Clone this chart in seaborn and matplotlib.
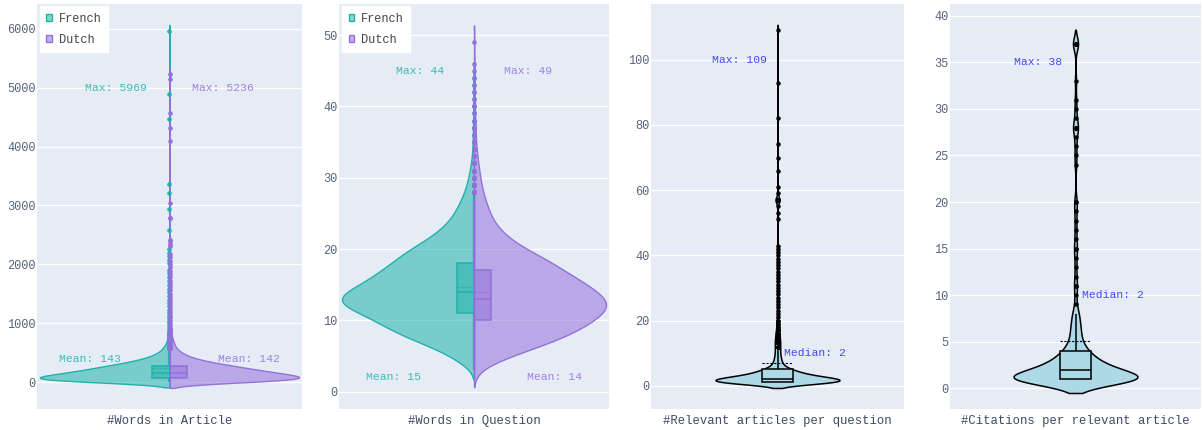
import seaborn as sns
import matplotlib
matplotlib.use("Agg")
import matplotlib.pyplot as plt
from matplotlib.colors import to_rgba
from matplotlib.patches import Patch
import numpy as np
import pandas as pd

sns.set_theme(style="darkgrid", rc={"axes.facecolor": "#E5ECF6", "grid.color": "white",
                                    "grid.linewidth": 1.0})
plt.rcParams["font.family"] = ["Liberation Mono", "DejaVu Sans Mono"]

# ---------------- data ----------------
langs = ["French", "Dutch"]
lang_colors = {"French": "#20B2AA", "Dutch": "#9370DB"}

# words per article: binned body + single outliers
art_bins = [10, 30, 50, 70, 90, 110, 130, 150, 170, 190, 210, 230, 250, 270, 290, 310, 330, 350,
            370, 390, 410, 430, 450, 470, 490, 510, 530, 550, 580, 620, 660, 700, 750, 800, 850,
            900, 950]
art_fr_counts = [60, 60, 60, 58, 55, 51, 47, 43, 40, 37, 34, 32, 29, 27, 24, 21, 18, 16, 13, 11,
                 10, 8, 7, 6, 5, 4, 4, 3, 5, 4, 3, 2, 2, 2, 2, 1, 1]
art_du_counts = [57, 60, 61, 59, 56, 52, 48, 44, 41, 38, 35, 32, 30, 27, 24, 21, 18, 15, 13, 11,
                 9, 8, 7, 6, 5, 5, 4, 3, 5, 4, 4, 3, 3, 2, 2, 2, 1]
art_fr_outliers = [1000, 1040, 1090, 1130, 1180, 1230, 1290, 1340, 1400, 1460, 1530, 1580, 1650,
                   1720, 1790, 1860, 1910, 2020, 2080, 2150, 2200, 2260, 2580, 2940, 3220, 3360,
                   4470, 4890, 5969]
art_du_outliers = [1000, 1050, 1100, 1150, 1200, 1250, 1300, 1350, 1400, 1450, 1500, 1560, 1610,
                   1660, 1720, 1780, 1830, 1890, 1950, 2000, 2060, 2120, 2180, 2310, 2350, 2390,
                   2420, 2780, 2793, 3035, 4086, 4322, 4563, 5154, 5236]

# words per question
q_words = [3, 4, 5, 6, 7, 8, 9, 10, 11, 12, 13, 14, 15, 16, 17, 18, 19, 20, 21, 22, 23, 24, 25,
           26, 27, 28, 29, 30, 31, 32, 33, 34, 35, 36, 37, 38, 39, 40, 41, 42, 43, 44, 45, 46, 49]
q_fr_counts = [0, 20, 32, 52, 80, 104, 124, 138, 160, 186, 200, 180, 160, 144, 130, 116, 104, 90,
               72, 56, 44, 34, 28, 22, 18, 13, 10, 8, 6, 4, 3, 2, 2, 1, 2, 1, 1, 1, 1, 1, 1, 1,
               0, 0, 0]
q_du_counts = [8, 25, 55, 85, 115, 140, 160, 175, 190, 200, 195, 180, 165, 150, 128, 118, 96, 76,
               58, 45, 35, 28, 23, 20, 16, 13, 11, 9, 8, 6, 5, 4, 3, 2, 3, 2, 1, 2, 1, 1, 1, 1,
               1, 1, 1]

# relevant articles per question
rel_vals = [1, 2, 3, 4, 5, 6, 7, 8, 9, 10, 11, 12, 13, 14, 15, 16, 17, 18, 19, 20, 21, 22, 23,
            24, 25, 26, 27, 28, 29, 30, 31, 32, 33, 34, 35, 36, 37, 38, 39, 40, 41, 42, 43, 51,
            53, 55, 57, 59, 61, 66, 70, 74, 82, 93, 109]
rel_counts = [135, 135, 70, 45, 28, 12, 9, 7, 6, 5, 5, 5, 5, 5, 4, 4, 3, 2, 2, 2, 1, 1, 1, 1,
              1, 1, 1, 1, 1, 1, 1, 1, 1, 1, 1, 1, 1, 1, 1, 1, 1, 1, 1, 1, 1, 1, 8, 1, 1, 1, 1,
              1, 1, 1, 1]

# citations per relevant article
cit_vals = [1, 2, 3, 4, 5, 6, 7, 8, 9, 10, 11, 12, 13, 14, 15, 16, 17, 18, 19, 20, 24, 25, 26,
            27, 28, 29, 30, 31, 33, 37]
cit_counts = [100, 45, 25, 14, 7, 6, 5, 4, 1, 1, 2, 1, 1, 1, 2, 1, 1, 1, 1, 2, 1, 1, 1, 1, 4, 1,
              1, 1, 1, 5]

art_max = {"French": 5969, "Dutch": 5236}
art_mean = {"French": 143, "Dutch": 142}
q_max = {"French": 44, "Dutch": 49}
q_mean = {"French": 15, "Dutch": 14}
rel_max, rel_median = 109, 2
cit_max, cit_median = 38, 2

# ---------------- frames ----------------
art_df = pd.concat([
    pd.DataFrame({"v": np.concatenate([np.repeat(art_bins, art_fr_counts), art_fr_outliers]),
                  "lang": "French"}),
    pd.DataFrame({"v": np.concatenate([np.repeat(art_bins, art_du_counts), art_du_outliers]),
                  "lang": "Dutch"}),
])
q_df = pd.concat([
    pd.DataFrame({"v": np.repeat(q_words, q_fr_counts), "lang": "French"}),
    pd.DataFrame({"v": np.repeat(q_words, q_du_counts), "lang": "Dutch"}),
])
rel_df = pd.DataFrame({"v": np.repeat(rel_vals, rel_counts)})
cit_df = pd.DataFrame({"v": np.repeat(cit_vals, cit_counts)})
for d in (art_df, q_df, rel_df, cit_df):
    d["grp"] = "a"

W, H = 1203, 430
fig = plt.figure(figsize=(W / 100, H / 100), dpi=100)


def make_ax(left, right, top=4, bottom=409):
    return fig.add_axes([left / W, 1 - bottom / H, (right - left) / W, (bottom - top) / H])


tick_color = "#56647d"
blue_txt = to_rgba("blue", 0.7)


def style(ax, ylim, ticks, xhalf, label):
    ax.set_ylim(*ylim)
    ax.set_yticks(ticks)
    ax.set_xlim(-xhalf, xhalf)
    ax.set_xticks([])
    ax.set_ylabel("")
    ax.set_xlabel(label, fontsize=8.8, color="#3c4a63", labelpad=4)
    ax.tick_params(axis="y", length=0, pad=1, labelsize=8.6, labelcolor=tick_color)
    ax.grid(axis="x", visible=False)
    ax.grid(axis="y", color="white", linewidth=1)
    for s in ax.spines.values():
        s.set_visible(False)


def split_panel(ax, df, h):
    sns.violinplot(data=df, x="grp", y="v", hue="lang", hue_order=langs, split=True, inner=None,
                   density_norm="width", cut=2, gridsize=1500, bw_method=h / df["v"].std(),
                   width=0.8, palette=lang_colors, saturation=1, linewidth=1.0, legend=False,
                   ax=ax)
    for coll, lang in zip(ax.collections, langs):
        coll.set_facecolor(to_rgba(lang_colors[lang], 0.55))
        coll.set_edgecolor(lang_colors[lang])
    for lang in langs:
        c = lang_colors[lang]
        sub = df[df["lang"] == lang]
        sns.boxplot(data=sub, x="grp", y="v", hue="lang", hue_order=langs, dodge=True, gap=0,
                    width=0.105, showfliers=False, showcaps=False,
                    boxprops=dict(facecolor=to_rgba(c, 0.5), edgecolor=c, linewidth=1.1),
                    whiskerprops=dict(visible=False), medianprops=dict(color=c, linewidth=1.1),
                    showmeans=True, meanline=True,
                    meanprops=dict(color=c, linestyle=(0, (2, 1.5)), linewidth=0.8),
                    legend=False, ax=ax)
        sns.boxplot(data=sub, x="grp", y="v", hue="lang", hue_order=langs, dodge=True, gap=0,
                    width=0.006, showcaps=False,
                    boxprops=dict(visible=False), medianprops=dict(visible=False),
                    whiskerprops=dict(color=c, linewidth=1.6),
                    flierprops=dict(marker="o", markersize=2.3, markerfacecolor=c,
                                    markeredgecolor=c, fillstyle="full"),
                    legend=False, ax=ax)
    handles = [Patch(facecolor=to_rgba(lang_colors[l], 0.55), edgecolor=lang_colors[l],
                     linewidth=1, label=l) for l in langs]
    ax.legend(handles=handles, loc="upper left", bbox_to_anchor=(0.011, 0.995),
              borderaxespad=0, frameon=True, fancybox=False, framealpha=1, edgecolor="white",
              facecolor="white", fontsize=8.6, handlelength=0.45, handleheight=0.45,
              handletextpad=0.6, borderpad=0.55, labelspacing=0.75,
              labelcolor="#444444")


def single_panel(ax, df, h):
    sns.violinplot(data=df, x="grp", y="v", inner=None, density_norm="width", cut=2,
                   gridsize=1500, bw_method=h / df["v"].std(), width=0.8, color="lightblue",
                   saturation=1, linecolor="black", linewidth=1.1, ax=ax)
    sns.boxplot(data=df, x="grp", y="v", width=0.2, showcaps=False, color="lightblue",
                saturation=1, linecolor="black", linewidth=1.1,
                showmeans=True, meanline=True,
                meanprops=dict(color="black", linestyle=(0, (2, 1.5)), linewidth=0.8),
                flierprops=dict(marker="o", markersize=2.2, markerfacecolor="black",
                                markeredgecolor="black", fillstyle="full"),
                ax=ax)


# panel 1: words in article
ax1 = make_ax(37, 302)
split_panel(ax1, art_df, 50)
style(ax1, (-453, 6419), [0, 1000, 2000, 3000, 4000, 5000, 6000], 0.409, "#Words in Article")
for lang, sx in zip(langs, (-1, 1)):
    col = to_rgba(lang_colors[lang], 0.85)
    ax1.text(0.164 * sx, 5000, f"Max: {art_max[lang]}", color=col, fontsize=8.2,
             ha="center", va="center")
    ax1.text(0.245 * sx, 400, f"Mean: {art_mean[lang]}", color=col, fontsize=8.2,
             ha="center", va="center")

# panel 2: words in question
ax2 = make_ax(339, 609)
split_panel(ax2, q_df, 1.15)
style(ax2, (-2.43, 54.35), [0, 10, 20, 30, 40, 50], 0.409, "#Words in Question")
for lang, sx in zip(langs, (-1, 1)):
    col = to_rgba(lang_colors[lang], 0.85)
    ax2.text(0.164 * sx, 45, f"Max: {q_max[lang]}", color=col, fontsize=8.2,
             ha="center", va="center")
    ax2.text(0.245 * sx, 2, f"Mean: {q_mean[lang]}", color=col, fontsize=8.2,
             ha="center", va="center")

# panel 3: relevant articles per question
ax3 = make_ax(651, 904)
single_panel(ax3, rel_df, 0.85)
style(ax3, (-7.15, 117.1), [0, 20, 40, 60, 80, 100], 0.816, "#Relevant articles per question")
ax3.text(-0.245, 100, f"Max: {rel_max}", color=blue_txt, fontsize=8.2, ha="center", va="center")
ax3.text(0.243, 10, f"Median: {rel_median}", color=blue_txt, fontsize=8.2, ha="center",
         va="center")

# panel 4: citations per relevant article
ax4 = make_ax(950, 1201)
single_panel(ax4, cit_df, 0.75)
style(ax4, (-2.22, 41.26), [0, 5, 10, 15, 20, 25, 30, 35, 40], 0.81,
      "#Citations per relevant article")
ax4.text(-0.243, 35, f"Max: {cit_max}", color=blue_txt, fontsize=8.2, ha="center", va="center")
ax4.text(0.24, 10, f"Median: {cit_median}", color=blue_txt, fontsize=8.2, ha="center",
         va="center")

fig.savefig("out.png", dpi=100)
